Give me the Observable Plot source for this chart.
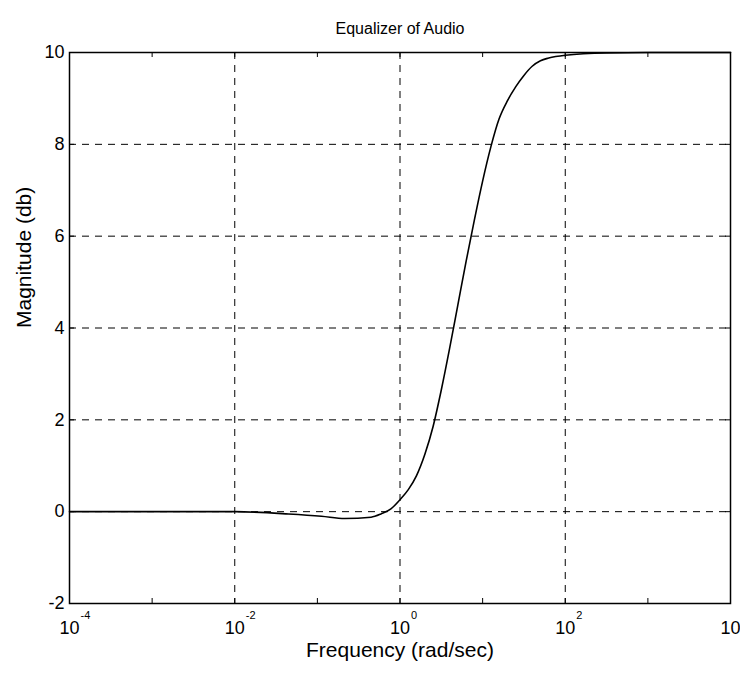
<!DOCTYPE html>
<html>
<head>
<meta charset="utf-8">
<script src="https://cdn.jsdelivr.net/npm/d3@7"></script>
<script src="https://cdn.jsdelivr.net/npm/@observablehq/plot@0.6"></script>
<style>
  html, body { margin: 0; padding: 0; background: #fff; }
  #chart svg { display: block; }
</style>
</head>
<body>
<div id="chart"></div>
<script>
// Frequency (rad/sec) and magnitude
const freq = [1e-4, 1e-3, 1e-2, 0.0447, 0.112, 0.214, 0.447, 0.589, 0.776,
  1.0, 1.26, 1.58, 2.0, 2.51, 3.16, 3.98, 5.01, 6.31, 7.94, 10, 12.6, 15.8, 20, 25.1, 31.6, 39.8, 50.1, 63.1, 100, 316, 1e3, 1e4];
const magnitude = [0, 0, 0, -0.05, -0.10, -0.15, -0.12, -0.05, 0.06,
  0.26, 0.48, 0.78, 1.25, 1.85, 2.65, 3.55, 4.5, 5.45, 6.35, 7.2, 7.95, 8.55, 8.95, 9.25, 9.5, 9.7, 9.82, 9.88, 9.94, 9.99, 10, 10];

const xDecades = [1e-4, 1e-3, 1e-2, 1e-1, 1, 1e1, 1e2, 1e3, 1e4];
const xGrid = [1e-2, 1, 1e2];
const xTickValues = [1e-4, 1e-2, 1, 1e2, 1e4];
const xTickExponents = ["-4", "-2", "0", "2", "4"];
const yTicks = [-2, 0, 2, 4, 6, 8, 10];
const yGrid = [0, 2, 4, 6, 8];

const title = "Equalizer of Audio";
const xLabel = "Frequency (rad/sec)";
const yLabel = "Magnitude (db)";

const W = 740, H = 679;
const mL = 69, mR = 10, mT = 52, mB = 76;
const innerW = W - mL - mR, innerH = H - mT - mB;

const data = freq.map((f, i) => ({f, m: magnitude[i]}));
const tickLen = 5;
const dash = "7,6";

const chart = Plot.plot({
  width: W,
  height: H,
  marginLeft: mL,
  marginRight: mR,
  marginTop: mT,
  marginBottom: mB,
  style: {fontFamily: "'Liberation Sans', Arial, sans-serif", background: "#fff", color: "#000"},
  x: {type: "log", domain: [1e-4, 1e4], axis: null},
  y: {domain: [-2, 10], axis: null},
  marks: [
    // grid
    Plot.ruleX(xGrid, {stroke: "#000", strokeWidth: 1, strokeDasharray: dash}),
    Plot.ruleY(yGrid, {stroke: "#000", strokeWidth: 1, strokeDasharray: dash}),
    // inward ticks
    Plot.ruleX(xDecades, {stroke: "#000", insetTop: innerH - tickLen}),
    Plot.ruleX(xDecades, {stroke: "#000", insetBottom: innerH - tickLen}),
    Plot.ruleY(yTicks, {stroke: "#000", insetRight: innerW - tickLen}),
    Plot.ruleY(yTicks, {stroke: "#000", insetLeft: innerW - tickLen}),
    // curve
    Plot.line(data, {x: "f", y: "m", stroke: "#000", strokeWidth: 1.6, curve: "monotone-x"}),
    Plot.frame({stroke: "#000", strokeWidth: 1.5}),
    // y axis labels
    Plot.axisY(yTicks, {tickSize: 0, tickPadding: 5, fontSize: 18, label: null, tickFormat: d => `${d}`}),
    // x tick labels 10^n
    Plot.text(xTickValues, {x: d => d, frameAnchor: "bottom", dy: 30, text: () => "10", fontSize: 18, textAnchor: "middle"}),
    Plot.text(xTickValues, {x: d => d, frameAnchor: "bottom", dy: 15, dx: 11, text: (d, i) => xTickExponents[i], fontSize: 11, textAnchor: "start"}),
    // titles
    Plot.text([title], {frameAnchor: "top", dy: -30, fontSize: 16}),
    Plot.text([xLabel], {frameAnchor: "bottom", dy: 53, fontSize: 21}),
    Plot.text([yLabel], {frameAnchor: "left", dx: -45, rotate: -90, fontSize: 21})
  ]
});
document.getElementById("chart").appendChild(chart);
</script>
</body>
</html>
